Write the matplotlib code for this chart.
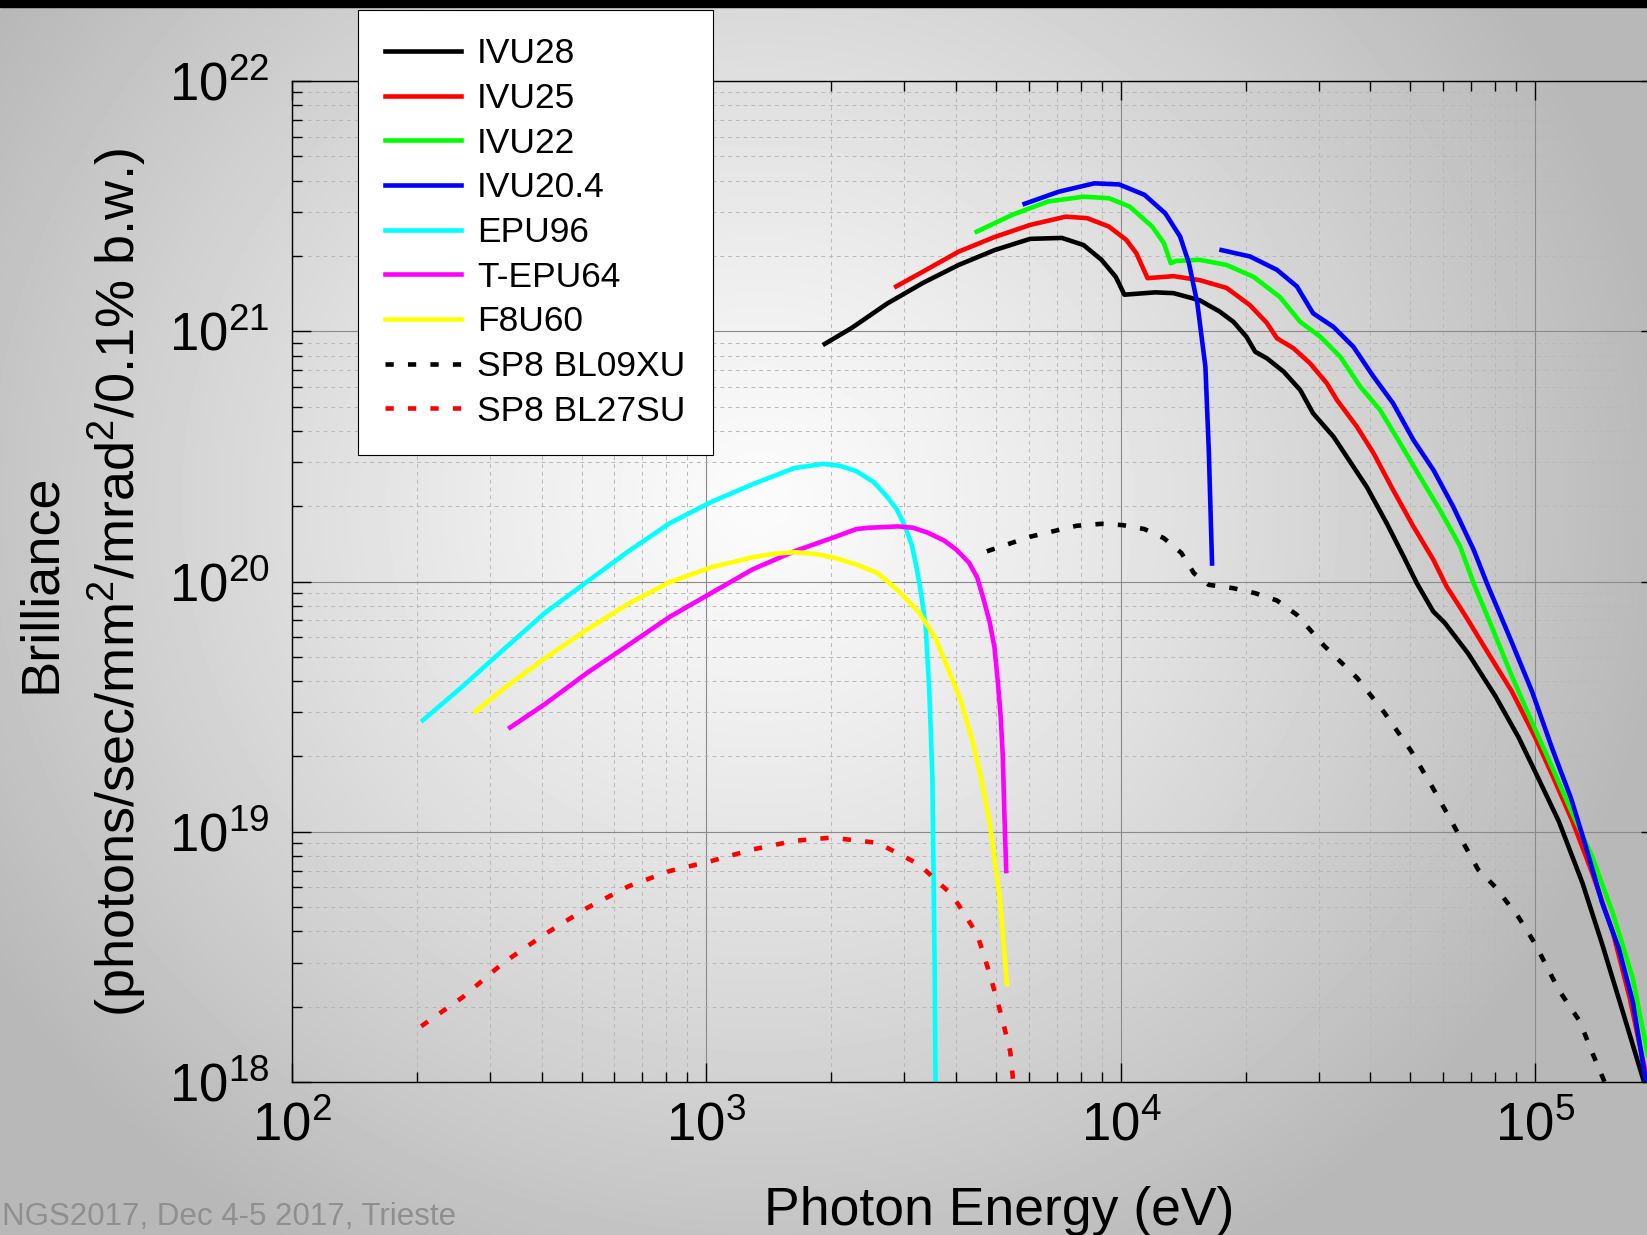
import numpy as np
import matplotlib
matplotlib.use('Agg')
import matplotlib.pyplot as plt
from matplotlib.ticker import LogLocator, NullFormatter

plt.rcParams['font.family'] = ['Liberation Sans', 'DejaVu Sans']
plt.rcParams['mathtext.fontset'] = 'custom'
plt.rcParams['mathtext.rm'] = 'Liberation Sans'
plt.rcParams['mathtext.it'] = 'Liberation Sans:italic'
plt.rcParams['mathtext.bf'] = 'Liberation Sans:bold'

# photon energy (eV) / brilliance
ivu28_e = [1930, 2240, 2730, 3330, 4060, 4960, 6040, 7210, 8130, 8980, 9720, 10200, 12100,
           13400, 15500, 17300, 18700, 20100, 21100, 22500, 24700, 27100, 29100, 32600, 35100,
           39200, 43800, 48100, 51800, 56700, 60400, 68800, 80000, 91200, 102000, 114000,
           130000, 145000, 162000, 183000]
ivu28_b = [8.9e20, 1.03e21, 1.29e21, 1.56e21, 1.84e21, 2.11e21, 2.34e21, 2.36e21, 2.21e21,
           1.93e21, 1.65e21, 1.40e21, 1.43e21, 1.42e21, 1.33e21, 1.20e21, 1.09e21, 9.5e20,
           8.28e20, 7.8e20, 6.9e20, 5.82e20, 4.7e20, 3.79e20, 3.15e20, 2.39e20, 1.71e20,
           1.26e20, 9.84e19, 7.6e19, 6.85e19, 5.17e19, 3.5e19, 2.38e19, 1.62e19, 1.10e19,
           6.24e18, 3.56e18, 1.95e18, 1.0e18]

ivu25_e = [2870, 3330, 4060, 4960, 6040, 7360, 8300, 9360, 10300, 10900, 11600, 13400, 15500,
           18000, 20500, 22500, 23800, 26100, 28600, 31400, 33200, 37100, 40700, 45400, 50800,
           56800, 61100, 67600, 77000, 87800, 100000, 110000, 123000, 137000, 154000, 169000,
           185000]
ivu25_b = [1.51e21, 1.73e21, 2.08e21, 2.38e21, 2.66e21, 2.87e21, 2.83e21, 2.62e21, 2.32e21,
           2.05e21, 1.63e21, 1.66e21, 1.60e21, 1.49e21, 1.27e21, 1.08e21, 9.38e20, 8.55e20,
           7.45e20, 6.2e20, 5.32e20, 4.16e20, 3.26e20, 2.32e20, 1.66e20, 1.22e20, 9.55e19,
           7.36e19, 5.17e19, 3.64e19, 2.38e19, 1.68e19, 1.10e19, 6.9e18, 3.95e18, 2.17e18,
           1.07e18]

ivu22_e = [4490, 5470, 6670, 8130, 9360, 10500, 11900, 12700, 13200, 13600, 15500, 18000,
           20900, 24200, 27100, 30300, 33800, 37800, 42200, 47200, 52700, 58900, 65900, 71000,
           78500, 87800, 98200, 110000, 123000, 137000, 154000, 172000, 187000]
ivu22_b = [2.5e21, 2.92e21, 3.3e21, 3.45e21, 3.4e21, 3.15e21, 2.62e21, 2.25e21, 1.87e21,
           1.91e21, 1.93e21, 1.84e21, 1.65e21, 1.37e21, 1.09e21, 9.5e20, 7.93e20, 6.01e20,
           4.85e20, 3.57e20, 2.62e20, 1.93e20, 1.38e20, 9.84e19, 6.6e19, 4.19e19, 2.74e19,
           1.8e19, 1.18e19, 8.0e18, 4.7e18, 2.59e18, 1.28e18]

ivu204_e1 = [5860, 7080, 8630, 9910, 11400, 12800, 13900, 14600, 15300, 16000, 16300, 16600]
ivu204_b1 = [3.23e21, 3.61e21, 3.9e21, 3.86e21, 3.51e21, 2.96e21, 2.39e21, 1.87e21, 1.29e21,
             7.2e20, 3.36e20, 1.18e20]
ivu204_e2 = [17500, 20500, 23800, 26600, 29100, 32600, 36400, 40700, 45400, 50800, 56800,
             63400, 71000, 77000, 86100, 98200, 110000, 122000, 132000, 145000, 159000,
             172000, 185000]
ivu204_b2 = [2.11e21, 1.99e21, 1.76e21, 1.51e21, 1.18e21, 1.04e21, 8.67e20, 6.59e20, 5.15e20,
             3.68e20, 2.79e20, 1.99e20, 1.34e20, 9.55e19, 6.17e19, 3.64e19, 2.14e19, 1.36e19,
             8.9e18, 5.2e18, 3.43e18, 2.09e18, 1.0e18]

epu96_e = [207, 258, 324, 408, 514, 648, 816, 1028, 1295, 1630, 1915, 2100, 2300, 2530, 2710,
           2870, 3010, 3130, 3220, 3300, 3380, 3450, 3510, 3530, 3556, 3575]
epu96_b = [2.79e19, 3.81e19, 5.35e19, 7.5e19, 9.95e19, 1.32e20, 1.71e20, 2.08e20, 2.45e20,
           2.84e20, 2.95e20, 2.9e20, 2.76e20, 2.5e20, 2.21e20, 1.96e20, 1.67e20, 1.40e20,
           1.12e20, 8.83e19, 6.67e19, 3.66e19, 1.64e19, 7.4e18, 2.72e18, 8e17]

tepu64_e = [336, 408, 514, 648, 816, 1028, 1295, 1630, 2050, 2300, 2470, 2900, 3150, 3410,
            3740, 4010, 4300, 4500, 4650, 4820, 4955, 5050, 5130, 5190, 5235, 5290]
tepu64_b = [2.61e19, 3.24e19, 4.3e19, 5.57e19, 7.23e19, 9.0e19, 1.12e20, 1.32e20, 1.51e20,
            1.62e20, 1.64e20, 1.66e20, 1.64e20, 1.57e20, 1.46e20, 1.34e20, 1.19e20, 1.04e20,
            8.65e19, 6.93e19, 5.46e19, 3.96e19, 2.88e19, 2.01e19, 1.19e19, 6.97e18]

f8u60_e = [277, 324, 408, 514, 648, 816, 1028, 1295, 1453, 1630, 1828, 2050, 2300, 2590, 2900,
           3260, 3573, 3830, 4100, 4400, 4600, 4820, 5110, 5310]
f8u60_b = [3.02e19, 3.73e19, 4.94e19, 6.41e19, 8.15e19, 9.95e19, 1.14e20, 1.25e20, 1.29e20,
           1.31e20, 1.29e20, 1.24e20, 1.17e20, 1.08e20, 9.2e19, 7.52e19, 5.92e19, 4.47e19,
           3.38e19, 2.26e19, 1.64e19, 1.10e19, 5.37e18, 2.46e18]

bl09xu_e = [4750, 6040, 7820, 8980, 10100, 11400, 12700, 14000, 15000, 16300, 18700, 21100,
            23800, 26600, 30900, 37200, 43200, 50200, 57100, 65100, 72800, 80000, 91200,
            100000, 114000, 128000, 137000, 147000]
bl09xu_b = [1.32e20, 1.51e20, 1.67e20, 1.70e20, 1.68e20, 1.62e20, 1.49e20, 1.30e20, 1.08e20,
            9.7e19, 9.4e19, 8.98e19, 8.4e19, 7.36e19, 5.55e19, 4.11e19, 3.0e19, 2.10e19,
            1.46e19, 9.87e18, 7.06e18, 6.03e18, 4.55e18, 3.56e18, 2.33e18, 1.75e18, 1.32e18,
            1.0e18]

bl27su_e = [205, 258, 324, 408, 514, 648, 816, 1028, 1295, 1630, 2000, 2590, 3260, 3920, 4500,
            4820, 5160, 5410, 5500]
bl27su_b = [1.67e18, 2.18e18, 3.0e18, 3.9e18, 4.95e18, 6.05e18, 6.97e18, 7.64e18, 8.5e18,
            9.2e18, 9.47e18, 9.03e18, 7.4e18, 5.58e18, 3.9e18, 2.72e18, 1.82e18, 1.32e18, 1.0e18]

W, H = 1647, 1235
fig = plt.figure(figsize=(W / 100, H / 100), dpi=100)

# grey radial backdrop of the slide
bg = fig.add_axes([0, 0, 1, 1], zorder=-10)
yy, xx = np.mgrid[0:H, 0:W]
r = np.hypot(xx - 760, (yy - 500) * 1.05)
shade = np.clip(0.985 - 0.26 * (r / 900) ** 1.2, 0.72, 1.0)
bg.imshow(shade, cmap='gray', vmin=0, vmax=1, aspect='auto', interpolation='bilinear')
bg.axis('off')
fig.add_artist(plt.Rectangle((0, 1 - 7 / H), 1, 7 / H, transform=fig.transFigure,
                             color='black', zorder=5))

ax = fig.add_axes([292 / W, 153 / H, 1368 / W, 1001 / H])
ax.set_facecolor('none')
ax.set_xscale('log')
ax.set_yscale('log')

lw = 3.3
dots = (0, (1.8, 3.1))
ax.plot(ivu28_e, ivu28_b, color='black', lw=lw, label='IVU28')
ax.plot(ivu25_e, ivu25_b, color='red', lw=lw, label='IVU25')
ax.plot(ivu22_e, ivu22_b, color='#00ff00', lw=lw, label='IVU22')
ax.plot(ivu204_e1, ivu204_b1, color='blue', lw=lw, label='IVU20.4')
ax.plot(ivu204_e2, ivu204_b2, color='blue', lw=lw)
ax.plot(epu96_e, epu96_b, color='cyan', lw=lw, label='EPU96')
ax.plot(tepu64_e, tepu64_b, color='magenta', lw=lw, label='T-EPU64')
ax.plot(f8u60_e, f8u60_b, color='yellow', lw=lw, label='F8U60')
ax.plot(bl09xu_e, bl09xu_b, color='black', lw=lw, ls=dots, dash_capstyle='butt',
        label='SP8 BL09XU')
ax.plot(bl27su_e, bl27su_b, color='red', lw=lw, ls=dots, dash_capstyle='butt',
        label='SP8 BL27SU')

ax.set_xlim(1e2, 2e5)
ax.set_ylim(1e18, 1e22)
for a in (ax.xaxis, ax.yaxis):
    a.set_major_locator(LogLocator(base=10, numticks=20))
    a.set_minor_locator(LogLocator(base=10, subs=np.arange(2, 10), numticks=20))
    a.set_minor_formatter(NullFormatter())

ax.grid(which='major', color='#8a8a8a', lw=0.8, ls='-')
ax.grid(which='minor', color='#b8b8b8', lw=0.7, ls=(0, (4, 4)))
ax.set_axisbelow(True)

ax.tick_params(which='both', direction='in', top=True, right=True, width=1.0,
               labelsize=38)
ax.tick_params(which='major', length=14)
ax.tick_params(which='minor', length=7.5)
ax.tick_params(axis='x', pad=14)
ax.tick_params(axis='y', pad=16)
for s in ax.spines.values():
    s.set_linewidth(1.0)

leg = ax.legend(loc='upper left', bbox_to_anchor=(358 / W, 1 - 10 / H),
                bbox_transform=fig.transFigure, fontsize=25.5, handlelength=2.14,
                handletextpad=0.45, labelspacing=0.33, borderpad=0.77,
                borderaxespad=0, fancybox=False, framealpha=1)
leg.get_frame().set_edgecolor('black')
leg.get_frame().set_linewidth(0.8)

fig.text(999 / W, 10 / H, 'Photon Energy (eV)', ha='center', va='baseline', fontsize=38.5)
fig.text(82 / W, 1 - 583 / H, 'Brilliance\n(photons/sec/mm$^2$/mrad$^2$/0.1% b.w.)',
         rotation=90, ha='center', va='center', fontsize=39, linespacing=1.4)
fig.text(2 / W, 10 / H, 'NGS2017, Dec 4-5 2017, Trieste', ha='left', va='baseline',
         fontsize=22.5, color='#8f8f8f')

fig.savefig('out.png', dpi=100)
